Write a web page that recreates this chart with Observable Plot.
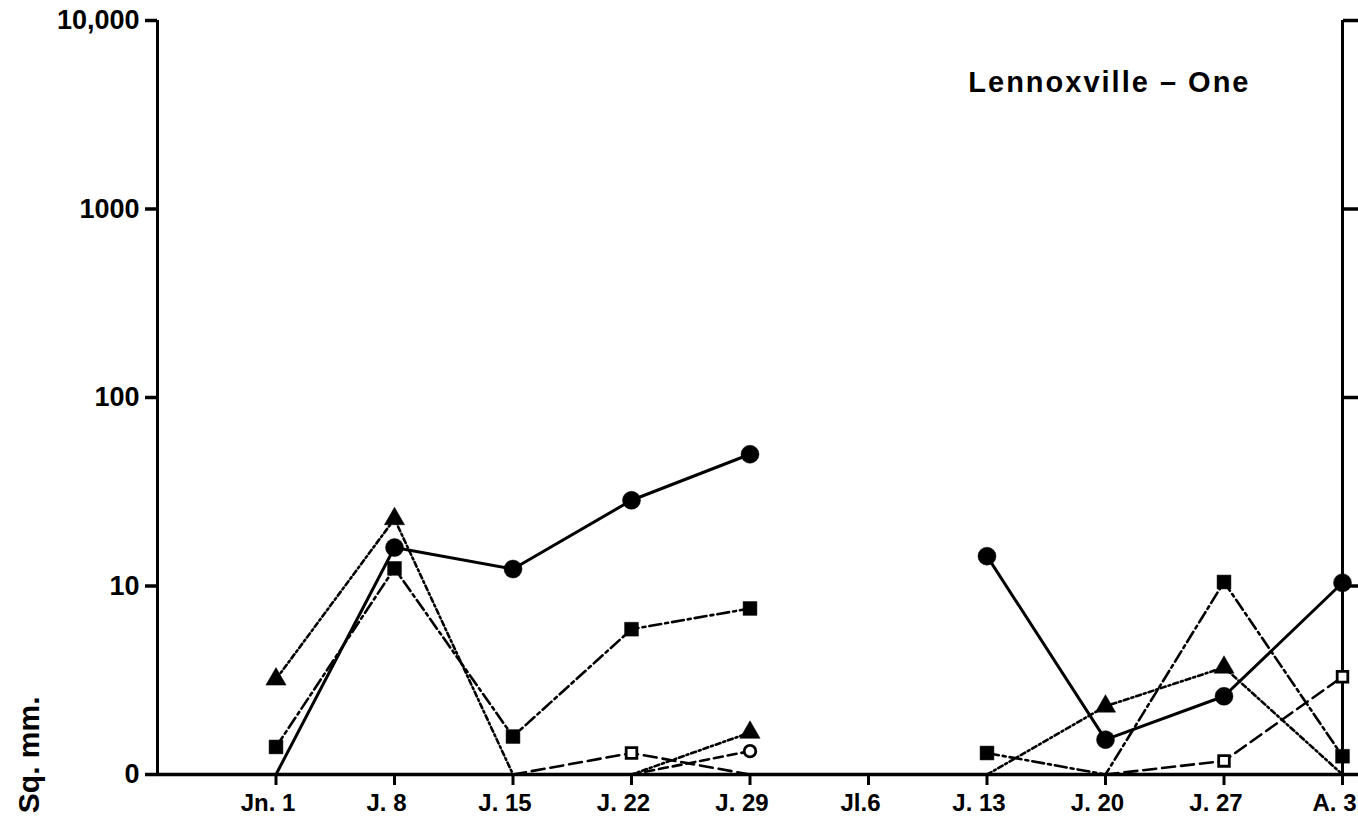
<!DOCTYPE html>
<html>
<head>
<meta charset="utf-8">
<script src="https://cdn.jsdelivr.net/npm/d3@7"></script>
<script src="https://cdn.jsdelivr.net/npm/@observablehq/plot@0.6"></script>
<style>
  html, body { margin: 0; padding: 0; background: #fff; }
  #chart svg { display: block; }
</style>
</head>
<body>
<div id="chart"></div>
<script>
// ---- data ----
const dates = ["Jn. 1", "J. 8", "J. 15", "J. 22", "J. 29", "Jl.6", "J. 13", "J. 20", "J. 27", "A. 3"];
const yTicks = [1, 10, 100, 1000, 10000];
const yTickLabels = ["0", "10", "100", "1000", "10,000"];

// sq. mm. per date; 0 = on the baseline, null = no observation
const filledCircle   = [0, 16, 12.3, 28.5, 50, null, 14.4, 1.53, 2.6, 10.4];
const filledSquare   = [1.4, 12.4, 1.59, 5.9, 7.6, null, 1.3, 0, 10.5, 1.25];
const filledTriangle = [3.2, 22.7, 0, 0, 1.67, null, 0, 2.3, 3.7, 0];
const openSquare     = [null, null, 0, 1.3, 0, null, null, 0, 1.18, 3.3];
const openCircle     = [null, null, null, 0, 1.33, null, null, null, null, null];

const title = "Lennoxville – One";
const yLabel = "Sq. mm.";

// ---- build tables ----
const BASE = yTicks[0]; // the "0" line of the log axis
const toRows = (arr) => arr.map((v, i) => ({i, v}));
const yVal = (d) => d.v == null ? NaN : (d.v === 0 ? BASE : d.v);
const tickLabel = new Map(yTicks.map((t, k) => [t, yTickLabels[k]]));
const xTicks = dates.map((_, i) => i);

const series = [
  {rows: toRows(filledCircle),   dash: null,          symbol: "circle",   r: 9,   fill: "black", sw: 3},
  {rows: toRows(filledSquare),   dash: "12,4,3,4",    symbol: "square",   r: 7.8, fill: "black", sw: 2.6},
  {rows: toRows(filledTriangle), dash: "5,3,2,3",     symbol: "triangle", r: 7.5, fill: "black", sw: 2.6},
  {rows: toRows(openSquare),     dash: "13,6",        symbol: "square",   r: 6,   fill: "white", sw: 2.6},
  {rows: toRows(openCircle),     dash: "9,5",         symbol: "circle",   r: 5.8, fill: "white", sw: 2.6}
];

const marks = [];
for (const s of series) {
  marks.push(Plot.line(s.rows, {
    x: "i", y: yVal, stroke: "black", strokeWidth: s.sw,
    strokeDasharray: s.dash || undefined
  }));
}
for (const s of series) {
  const pts = s.rows.filter(d => d.v != null && d.v > 0);
  marks.push(Plot.dot(pts, {
    x: "i", y: yVal, symbol: s.symbol, r: s.r,
    fill: s.fill, stroke: "black", strokeWidth: s.fill === "white" ? 2.8 : 0.5
  }));
}

const chart = Plot.plot({
  width: 1358,
  height: 820,
  marginLeft: 157,
  marginRight: 16,
  marginTop: 20,
  marginBottom: 46,
  style: {fontFamily: "'Liberation Sans', Arial, sans-serif", fontWeight: "bold", background: "white", color: "black"},
  x: {type: "linear", domain: [-1, dates.length - 1]},
  y: {type: "log", domain: [yTicks[0], yTicks[yTicks.length - 1]]},
  marks: [
    // axis lines
    Plot.ruleX([-1], {stroke: "black", strokeWidth: 3}),
    Plot.ruleX([dates.length - 1], {stroke: "black", strokeWidth: 3}),
    Plot.ruleY([BASE], {stroke: "black", strokeWidth: 3.5}),
    Plot.axisY({
      anchor: "left", ticks: yTicks, tickFormat: d => tickLabel.get(d),
      tickSize: 12, tickPadding: 6, strokeWidth: 3.5,
      fontSize: 27, fontWeight: "bold", label: null
    }),
    Plot.axisY({
      anchor: "right", ticks: yTicks, tickFormat: () => "",
      tickSize: 15, strokeWidth: 3.5, label: null
    }),
    // x tick marks
    Plot.axisX({
      anchor: "bottom", ticks: xTicks, tickFormat: () => "",
      tickSize: 11, strokeWidth: 3, label: null
    }),
    // x tick labels (slightly left of the ticks, as in the reference)
    Plot.axisX({
      anchor: "bottom", ticks: xTicks, tickFormat: i => dates[i],
      tickSize: 0, tickPadding: 19, dx: -8,
      fontSize: 24, fontWeight: "bold", label: null
    }),
    ...marks,
    Plot.text([title], {
      frameAnchor: "top-right", dx: -92, dy: 62, textAnchor: "end", lineAnchor: "middle",
      fontSize: 29, fontWeight: "bold", fill: "black"
    }),
    Plot.text([yLabel], {
      frameAnchor: "bottom-left", dx: -119, dy: -78, rotate: -90,
      textAnchor: "end", lineAnchor: "bottom",
      fontSize: 30, fontWeight: "bold", fill: "black"
    })
  ]
});
// widen the letter spacing of the title as in the reference
for (const t of chart.querySelectorAll("text")) {
  if (t.textContent === title) t.style.letterSpacing = "2px";
}
document.getElementById("chart").appendChild(chart);
</script>
</body>
</html>
